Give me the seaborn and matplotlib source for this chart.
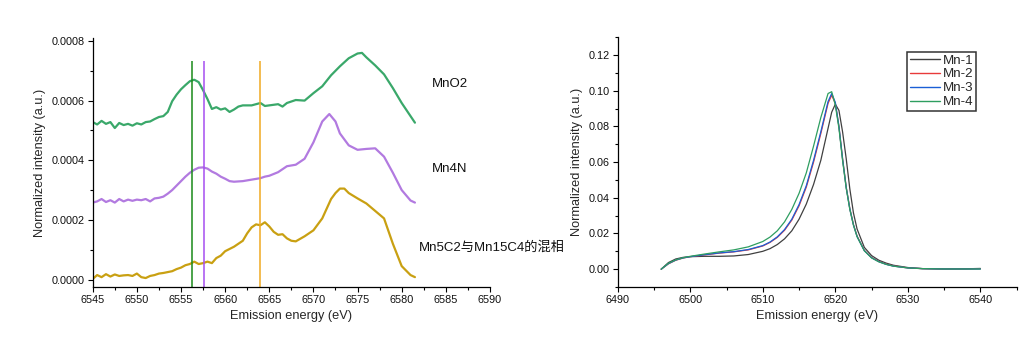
import numpy as np
import pandas as pd
import matplotlib
matplotlib.use("Agg")
import matplotlib.pyplot as plt
import seaborn as sns
from matplotlib.ticker import MultipleLocator, FormatStrFormatter
from matplotlib.lines import Line2D

# ---------------- data: left panel (x in eV, y in 1e-4 a.u.) ----------------
mno2_x = [6545, 6545.5, 6546, 6546.5, 6547, 6547.5, 6548, 6548.5, 6549, 6549.5,
          6550, 6550.5, 6551, 6551.5, 6552, 6552.5, 6553, 6553.5, 6554, 6554.5,
          6555, 6555.5, 6556, 6556.5, 6557, 6557.5, 6558, 6558.5, 6559, 6559.5,
          6560, 6560.5, 6561, 6561.5, 6562, 6563, 6564, 6564.5, 6565, 6566,
          6566.5, 6567, 6568, 6569, 6570, 6571, 6572, 6573, 6574, 6575,
          6575.5, 6576, 6577, 6578, 6579, 6580, 6581, 6581.5]
mno2_y = [5.28, 5.20, 5.32, 5.22, 5.28, 5.08, 5.25, 5.18, 5.22, 5.16,
          5.24, 5.20, 5.28, 5.30, 5.38, 5.45, 5.48, 5.62, 5.98, 6.20,
          6.38, 6.52, 6.65, 6.70, 6.62, 6.35, 6.05, 5.72, 5.78, 5.70,
          5.74, 5.62, 5.70, 5.80, 5.84, 5.84, 5.92, 5.82, 5.84, 5.88,
          5.80, 5.92, 6.02, 6.00, 6.25, 6.48, 6.85, 7.15, 7.42, 7.58,
          7.60, 7.45, 7.18, 6.88, 6.42, 5.92, 5.48, 5.26]

mn4n_x = [6545, 6545.5, 6546, 6546.5, 6547, 6547.5, 6548, 6548.5, 6549, 6549.5,
          6550, 6550.5, 6551, 6551.5, 6552, 6552.5, 6553, 6553.5, 6554, 6554.5,
          6555, 6555.5, 6556, 6556.5, 6557, 6557.5, 6558, 6558.5, 6559, 6559.5,
          6560, 6560.5, 6561, 6562, 6563, 6564, 6564.5, 6565, 6566, 6566.5,
          6567, 6568, 6569, 6570, 6571, 6571.8, 6572.5, 6573, 6574, 6575,
          6576, 6577, 6578, 6579, 6580, 6581, 6581.5]
mn4n_y = [2.58, 2.62, 2.70, 2.60, 2.66, 2.58, 2.70, 2.62, 2.68, 2.64,
          2.68, 2.66, 2.70, 2.62, 2.72, 2.74, 2.78, 2.88, 3.00, 3.15,
          3.30, 3.45, 3.58, 3.68, 3.75, 3.76, 3.72, 3.62, 3.55, 3.45,
          3.38, 3.30, 3.28, 3.30, 3.35, 3.40, 3.45, 3.48, 3.60, 3.70,
          3.80, 3.85, 4.05, 4.60, 5.30, 5.55, 5.30, 4.90, 4.50, 4.35,
          4.38, 4.40, 4.12, 3.58, 3.00, 2.65, 2.58]

mn5c2_x = [6545, 6545.5, 6546, 6546.5, 6547, 6547.5, 6548, 6548.5, 6549, 6549.5,
           6550, 6550.5, 6551, 6551.5, 6552, 6552.5, 6553, 6553.5, 6554, 6554.5,
           6555, 6555.5, 6556, 6556.5, 6557, 6557.5, 6558, 6558.5, 6559, 6559.5,
           6560, 6561, 6562, 6562.5, 6563, 6563.5, 6564, 6564.5, 6565, 6565.5,
           6566, 6566.5, 6567, 6567.5, 6568, 6569, 6570, 6571, 6572, 6572.5,
           6573, 6573.5, 6574, 6575, 6576, 6577, 6578, 6579, 6580, 6581, 6581.5]
mn5c2_y = [0.02, 0.15, 0.08, 0.18, 0.10, 0.17, 0.12, 0.14, 0.15, 0.12,
           0.20, 0.08, 0.05, 0.12, 0.15, 0.20, 0.22, 0.25, 0.28, 0.35,
           0.40, 0.48, 0.52, 0.60, 0.52, 0.55, 0.60, 0.55, 0.72, 0.80,
           0.95, 1.10, 1.30, 1.55, 1.75, 1.85, 1.82, 1.92, 1.78, 1.60,
           1.50, 1.52, 1.38, 1.30, 1.28, 1.45, 1.65, 2.05, 2.70, 2.90,
           3.05, 3.05, 2.90, 2.72, 2.55, 2.30, 2.05, 1.20, 0.45, 0.15, 0.08]

left_names = ["MnO2", "Mn4N", "Mn5C2与Mn15C4的混相"]
marker_lines = [6556.2, 6557.6, 6564.0]

# ---------------- data: right panel ----------------
r_x = [6496, 6497, 6498, 6499, 6500, 6502, 6504, 6506, 6508, 6510, 6511, 6512,
       6513, 6514, 6515, 6516, 6517, 6518, 6519, 6519.5, 6520, 6520.5, 6521,
       6521.5, 6522, 6522.5, 6523, 6524, 6525, 6526, 6527, 6528, 6530, 6532,
       6535, 6538, 6540]
mn1_y = [0.0, 0.0037, 0.0057, 0.0066, 0.0070, 0.0072, 0.0072, 0.0074, 0.0082,
         0.0100, 0.0115, 0.0138, 0.0170, 0.0215, 0.0280, 0.0365, 0.0475, 0.0610,
         0.0790, 0.0880, 0.0925, 0.0890, 0.0770, 0.0620, 0.0450, 0.0315, 0.0225,
         0.0122, 0.0076, 0.0050, 0.0034, 0.0022, 0.0009, 0.0003, 0.0001, 0.0002,
         0.0004]
mn2_y = [0.0, 0.0030, 0.0050, 0.0062, 0.0070, 0.0080, 0.0090, 0.0097, 0.0108,
         0.0130, 0.0150, 0.0178, 0.0218, 0.0275, 0.0355, 0.0460, 0.0600, 0.0760,
         0.0930, 0.0975, 0.0930, 0.0800, 0.0620, 0.0460, 0.0340, 0.0250, 0.0185,
         0.0105, 0.0065, 0.0043, 0.0028, 0.0018, 0.0007, 0.0003, 0.0001, 0.0001,
         0.0003]
mn3_y = [0.0, 0.0031, 0.0051, 0.0063, 0.0070, 0.0081, 0.0091, 0.0098, 0.0110,
         0.0132, 0.0152, 0.0181, 0.0222, 0.0280, 0.0362, 0.0468, 0.0610, 0.0770,
         0.0940, 0.0985, 0.0935, 0.0800, 0.0618, 0.0458, 0.0338, 0.0248, 0.0183,
         0.0104, 0.0064, 0.0042, 0.0027, 0.0017, 0.0007, 0.0003, 0.0001, 0.0001,
         0.0001]
mn4_y = [0.0, 0.0033, 0.0052, 0.0064, 0.0072, 0.0085, 0.0097, 0.0108, 0.0125,
         0.0155, 0.0180, 0.0215, 0.0265, 0.0335, 0.0425, 0.0540, 0.0690, 0.0850,
         0.0985, 0.0995, 0.0920, 0.0790, 0.0610, 0.0455, 0.0335, 0.0247, 0.0182,
         0.0103, 0.0063, 0.0041, 0.0027, 0.0017, 0.0007, 0.0003, 0.0001, 0.0001,
         0.0001]
right_names = ["Mn-1", "Mn-2", "Mn-3", "Mn-4"]

# ---------------- style ----------------
sns.set_style("ticks")
plt.rcParams["font.family"] = ["Liberation Sans", "Noto Sans CJK SC", "DejaVu Sans"]
plt.rcParams["xtick.direction"] = "out"
plt.rcParams["ytick.direction"] = "out"

fig = plt.figure(figsize=(10.35, 3.54), dpi=100)
axL = fig.add_axes([0.0896, 0.1893, 0.3838, 0.7034])
axR = fig.add_axes([0.5968, 0.1893, 0.3855, 0.7053])

left_colors = ["#3aa86a", "#b27ae0", "#c9a012"]
line_colors = ["#1a8a1a", "#a64ef0", "#f0aa22"]

for xs, ys, c in zip([mno2_x, mn4n_x, mn5c2_x], [mno2_y, mn4n_y, mn5c2_y], left_colors):
    df = pd.DataFrame({"x": xs, "y": np.array(ys) * 1e-4})
    sns.lineplot(data=df, x="x", y="y", ax=axL, color=c, linewidth=1.6,
                 estimator=None, sort=False)

ylo_L, yhi_L = -0.000025, 0.00081
axL.vlines(marker_lines, ylo_L, 0.000732, colors=line_colors, linewidth=1.1)
axL.set_xlim(6545, 6590)
axL.set_ylim(ylo_L, yhi_L)
axL.xaxis.set_major_locator(MultipleLocator(5))
axL.xaxis.set_minor_locator(MultipleLocator(2.5))
axL.yaxis.set_major_locator(MultipleLocator(0.0002))
axL.yaxis.set_minor_locator(MultipleLocator(0.0001))
axL.yaxis.set_major_formatter(FormatStrFormatter("%.4f"))

label_pos = [(6583.4, 0.000657), (6583.4, 0.000370), (6582.0, 0.000107)]
for name, (tx, ty) in zip(left_names, label_pos):
    axL.text(tx, ty, name, fontsize=9.5, va="center", ha="left", color="#111111",
             clip_on=False)

df_r = pd.concat([pd.DataFrame({"x": r_x, "y": ys, "sample": n})
                  for n, ys in zip(right_names, [mn1_y, mn2_y, mn3_y, mn4_y])])
right_colors = ["#404040", "#e83a3a", "#1a5fd6", "#2e9e60"]
sns.lineplot(data=df_r, x="x", y="y", hue="sample", palette=right_colors, ax=axR,
             linewidth=0.9, estimator=None, sort=False, legend=False)
axR.set_xlim(6490, 6545)
axR.set_ylim(-0.01, 0.13)
axR.xaxis.set_major_locator(MultipleLocator(10))
axR.xaxis.set_minor_locator(MultipleLocator(5))
axR.yaxis.set_major_locator(MultipleLocator(0.02))
axR.yaxis.set_minor_locator(MultipleLocator(0.01))
axR.yaxis.set_major_formatter(FormatStrFormatter("%.2f"))
handles = [Line2D([], [], color=c, linewidth=1.0) for c in right_colors]
leg = axR.legend(handles, right_names, loc="upper right", bbox_to_anchor=(0.898, 0.942),
                 borderaxespad=0, fontsize=9.6, frameon=True, fancybox=False,
                 handlelength=2.3, handletextpad=0.2, labelspacing=0.12,
                 borderpad=0.18, edgecolor="black")
leg.get_frame().set_linewidth(1.1)

for ax in (axL, axR):
    sns.despine(ax=ax)
    ax.spines["left"].set_linewidth(0.9)
    ax.spines["bottom"].set_linewidth(0.9)
    ax.spines["left"].set_color("black")
    ax.spines["bottom"].set_color("black")
    ax.tick_params(which="major", length=3.5, width=0.8, labelsize=7.8, color="black",
                   labelcolor="#111111", pad=2)
    ax.tick_params(which="minor", length=2.2, width=0.8, color="black")
    ax.set_xlabel("Emission energy (eV)", fontsize=9.2, labelpad=4)
    ax.set_ylabel("Normalized intensity (a.u.)", fontsize=9.2, labelpad=4)

fig.savefig("out.png", dpi=100)
